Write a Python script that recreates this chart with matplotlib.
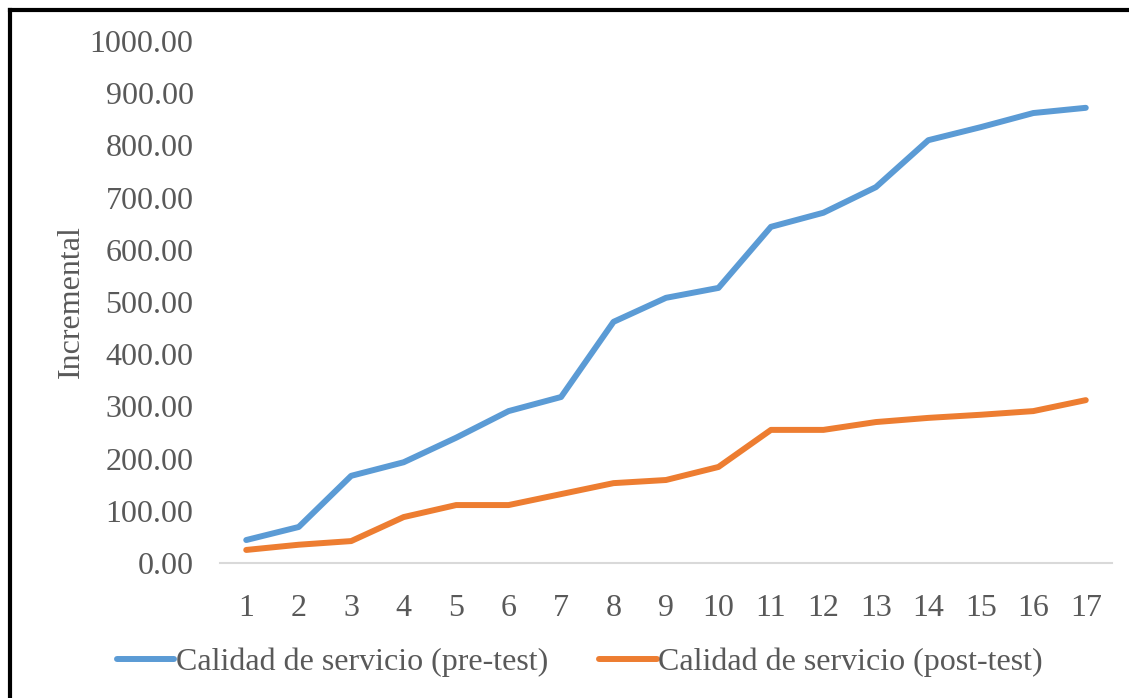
import numpy as np
import matplotlib.pyplot as plt
from matplotlib.lines import Line2D

plt.rcParams['font.family'] = ['Liberation Serif', 'DejaVu Serif']

dias = list(range(1, 18))
pre_test = [44, 69, 167, 193, 240, 291, 318, 462, 508, 527, 644, 671, 720, 810, 835, 862, 872]
post_test = [25, 35, 42, 88, 111, 111, 132, 153, 159, 184, 255, 255, 270, 278, 284, 291, 312]
y_ticks = np.arange(0, 1001, 100)

gris = '#595959'
fs = 23

fig = plt.figure(figsize=(11.29, 6.98), dpi=100)
ax = fig.add_axes([220 / 1129, 1 - 563 / 698, (1112 - 220) / 1129, (563 - 41) / 698])

ax.plot(dias, pre_test, color='#5B9BD5', lw=4.3, solid_capstyle='round', solid_joinstyle='round',
        label='Calidad de servicio (pre-test)')
ax.plot(dias, post_test, color='#ED7D31', lw=4.3, solid_capstyle='round', solid_joinstyle='round',
        label='Calidad de servicio (post-test)')

ax.set_xlim(0.5, 17.5)
ax.set_ylim(0, 1000)
ax.set_xticks(dias)
ax.set_yticks(y_ticks)
ax.set_yticklabels([f'{v:.2f}' for v in y_ticks])
ax.tick_params(length=0, labelsize=fs, colors=gris)
ax.tick_params(axis='y', pad=19)
ax.tick_params(axis='x', pad=22)
for s in ['top', 'right', 'left']:
    ax.spines[s].set_visible(False)
ax.spines['bottom'].set_color('#D9D9D9')
ax.spines['bottom'].set_linewidth(1.5)

ax.set_ylabel('Incremental', fontsize=fs, color=gris, labelpad=3)

handles = [Line2D([], [], color='#5B9BD5', lw=4.3, solid_capstyle='round'),
           Line2D([], [], color='#ED7D31', lw=4.3, solid_capstyle='round')]
fig.legend(handles, ['Calidad de servicio (pre-test)', 'Calidad de servicio (post-test)'],
           loc='center', bbox_to_anchor=(580 / 1129, 1 - 662 / 698), ncol=2, frameon=False,
           fontsize=fs, labelcolor=gris, handlelength=1.8, handletextpad=0.05, columnspacing=1.6)

# marco negro (superior e izquierdo)
fig.add_artist(Line2D([10 / 1129, 10 / 1129], [0, 1 - 10 / 698], color='black', lw=3, transform=fig.transFigure))
fig.add_artist(Line2D([10 / 1129, 1], [1 - 10 / 698, 1 - 10 / 698], color='black', lw=3, transform=fig.transFigure))

fig.savefig('out.png', dpi=100)
